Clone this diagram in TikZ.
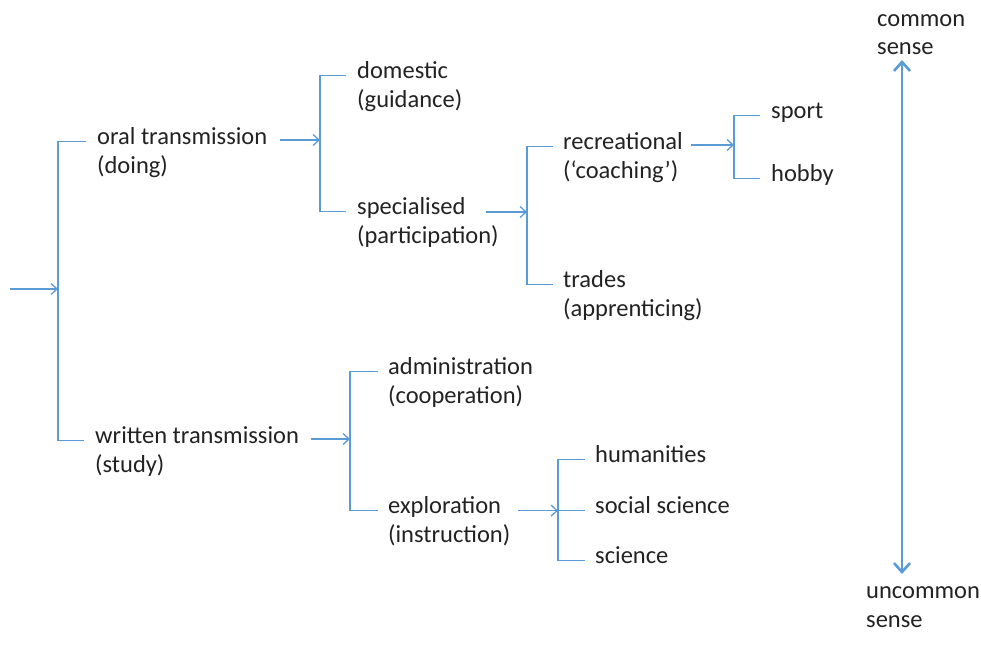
\documentclass[tikz,border=0pt]{standalone}
\usepackage{fontspec}
\setmainfont{Carlito}
\usetikzlibrary{arrows.meta}
\definecolor{lnblue}{HTML}{5B9BD5}
\definecolor{txt}{HTML}{222222}
\begin{document}
\begin{tikzpicture}[x=1pt,y=-1pt,
  t/.style={anchor=base west, inner sep=0pt, font=\fontsize{24.5}{29}\selectfont, text=txt},
  ln/.style={draw=lnblue, line width=1.3pt},
  arr/.style={ln, -{Straight Barb[length=6pt,width=11pt]}},
  big/.style={draw=lnblue, line width=2.6pt, {Straight Barb[length=9pt,width=16pt]}-{Straight Barb[length=9pt,width=16pt]}}]
\useasboundingbox (0,0) rectangle (981,649);

% texts
\node[t] (oral) at (97,144) {oral transmission};
\node[t] (oral2) at (97,173) {(doing)};
\node[t] (written) at (95,443) {written transmission};
\node[t] (written2) at (95,472) {(study)};
\node[t] (dom) at (357,78) {domestic};
\node[t] (dom2) at (357,107) {(guidance)};
\node[t] (spec) at (357,214) {specialised};
\node[t] (spec2) at (357,243) {(participation)};
\node[t] (rec) at (563,149) {recreational};
\node[t] (rec2) at (563,178) {(‘coaching’)};
\node[t] (trad) at (563,287) {trades};
\node[t] (trad2) at (563,316) {(apprenticing)};
\node[t] (sport) at (771,118) {sport};
\node[t] (hobby) at (771,181) {hobby};
\node[t] (adm) at (388,374) {administration};
\node[t] (adm2) at (388,403) {(cooperation)};
\node[t] (expl) at (388,513) {exploration};
\node[t] (expl2) at (388,542) {(instruction)};
\node[t] (hum) at (595,462) {humanities};
\node[t] (soc) at (595,513) {social science};
\node[t] (sci) at (595,563) {science};
\node[t] (common) at (877,26) {common};
\node[t] (common2) at (877,54) {sense};
\node[t] (unc) at (866,598) {uncommon};
\node[t] (unc2) at (866,627) {sense};

% junctions
\coordinate (in) at (10,289);
\coordinate (j1) at (58,289);
\coordinate (j2) at (320,140);
\coordinate (j3) at (527,212);
\coordinate (j4) at (734,145);
\coordinate (j5) at (350,439);
\path (soc.mid west) ++(-37,0) coordinate (j6);

% level 1
\draw[arr] (in) -- (j1);
\draw[ln] ([xshift=-11pt]oral.mid west) -| (j1) |- ([xshift=-11pt]written.mid west);
% oral branch
\draw[arr] ([xshift=13pt]oral.east |- j2) -- (j2);
\draw[ln] ([xshift=-11pt]dom.mid west) -| (j2) |- ([xshift=-11pt]spec.mid west);
\draw[arr] ([xshift=20pt]spec.east |- j3) -- (j3);
\draw[ln] ([xshift=-10pt]rec.mid west) -| (j3) |- ([xshift=-10pt]trad.mid west);
\draw[arr] ([xshift=8pt]rec.east |- j4) -- (j4);
\draw[ln] ([xshift=-11pt]sport.mid west) -| (j4) |- ([xshift=-11pt]hobby.mid west);
% written branch
\draw[arr] ([xshift=12pt]written.east |- j5) -- (j5);
\draw[ln] ([xshift=-10pt]adm.mid west) -| (j5) |- ([xshift=-10pt]expl.mid west);
\draw[arr] ([xshift=17pt]expl.east |- j6) -- (j6);
\draw[ln] ([xshift=-10pt]hum.mid west) -| (j6) |- ([xshift=-10pt]sci.mid west);
\draw[ln] (j6) -- ([xshift=-10pt]soc.mid west);

% scale arrow
\coordinate (top) at (902,60);
\coordinate (bot) at (902,574);
\draw[big] (top) -- (bot);
\end{tikzpicture}
\end{document}
